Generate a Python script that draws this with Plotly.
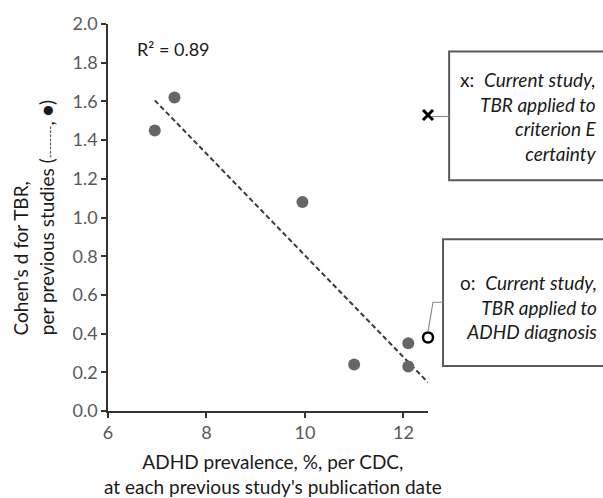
import numpy as np
import plotly.graph_objects as go

# ---- data ----
prev_prevalence = [6.95, 7.35, 9.95, 11.0, 12.1, 12.1]   # ADHD prevalence, %
prev_cohens_d = [1.45, 1.62, 1.08, 0.24, 0.35, 0.23]     # Cohen's d for TBR
current_prevalence = [12.5]
current_d_criterion_e = [1.53]
current_d_adhd_dx = [0.38]
r2_label = "R² = 0.89"
x_ticks = [6, 8, 10, 12]
y_ticks = [0.0, 0.2, 0.4, 0.6, 0.8, 1.0, 1.2, 1.4, 1.6, 1.8, 2.0]

# regression line through previous studies
slope, intercept = np.polyfit(prev_prevalence, prev_cohens_d, 1)
trend_x = np.array([min(prev_prevalence), current_prevalence[0]])
trend_y = slope * trend_x + intercept

FONT = "Lato"
fig = go.Figure()

fig.add_trace(go.Scatter(
    x=trend_x, y=trend_y, mode="lines",
    line=dict(color="#3a3a3a", width=2, dash="5px,3px"),
    hoverinfo="skip", showlegend=False))

fig.add_trace(go.Scatter(
    x=prev_prevalence, y=prev_cohens_d, mode="markers",
    marker=dict(color="#666666", size=12, line=dict(width=0)),
    showlegend=False))

fig.add_trace(go.Scatter(
    x=current_prevalence, y=current_d_criterion_e, mode="markers",
    marker=dict(symbol="x-thin", color="black", size=10,
                line=dict(color="black", width=3)),
    cliponaxis=False, showlegend=False))

fig.add_trace(go.Scatter(
    x=current_prevalence, y=current_d_adhd_dx, mode="markers",
    marker=dict(symbol="circle", color="white", size=10,
                line=dict(color="black", width=2.5)),
    cliponaxis=False, showlegend=False))

axis_common = dict(
    showline=True, linecolor="#333333", linewidth=1.5,
    ticks="outside", ticklen=5, tickcolor="#333333", tickwidth=1.5,
    showgrid=False, zeroline=False,
    tickfont=dict(family=FONT, size=18, color="#595959"),
)

fig.update_xaxes(range=[6, 12.5], tickvals=x_ticks, **axis_common)
fig.update_yaxes(range=[0, 2.0], tickvals=y_ticks, tickformat=".1f", **axis_common)

text_font = dict(family=FONT, size=19, color="#1a1a1a")

annotations = [
    dict(x=6.55, y=1.87, xref="x", yref="y", text=r2_label, showarrow=False,
         xanchor="left", yanchor="middle", font=dict(family=FONT, size=18, color="#1a1a1a")),
    dict(x=0.516, y=-0.162, xref="paper", yref="paper",
         text="ADHD prevalence, %, per CDC,<br>at each previous study's publication date",
         showarrow=False, xanchor="center", yanchor="middle", font=text_font),
    dict(x=-0.272, y=0.19, xref="paper", yref="paper", text="Cohen's d for TBR,",
         textangle=-90, showarrow=False, xanchor="center", yanchor="bottom",
         font=text_font),
    dict(x=-0.19, y=0.19, xref="paper", yref="paper",
         text="per previous studies (<span style=\"font-size:11px\">--------</span>, ●)",
         textangle=-90, showarrow=False, xanchor="center", yanchor="bottom",
         font=text_font),
    dict(x=1.534, y=0.760, xref="paper", yref="paper",
         text="x:  <i>Current study,</i><br><i>TBR applied to</i><br><i>criterion E</i><br><i>certainty</i>",
         showarrow=False, xanchor="right", yanchor="middle", align="right",
         font=text_font),
    dict(x=1.534, y=0.268, xref="paper", yref="paper",
         text="o:  <i>Current study,</i><br><i>TBR applied to</i><br><i>ADHD diagnosis</i>",
         showarrow=False, xanchor="right", yanchor="middle", align="right",
         font=text_font),
]

shapes = [
    # box for criterion E
    dict(type="rect", xref="paper", yref="paper", x0=1.066, x1=1.56, y0=0.596, y1=0.929,
         line=dict(color="#595959", width=2), fillcolor="rgba(0,0,0,0)", layer="above"),
    # box for ADHD diagnosis
    dict(type="rect", xref="paper", yref="paper", x0=1.047, x1=1.56, y0=0.116, y1=0.444,
         line=dict(color="#595959", width=2), fillcolor="rgba(0,0,0,0)", layer="above"),
    # connectors
    dict(type="line", xref="paper", yref="paper", x0=1.012, x1=1.066, y0=0.761, y1=0.761,
         line=dict(color="#8c8c8c", width=1.2)),
    dict(type="path", xref="paper", yref="paper",
         path="M 1.0 0.205 L 1.0156 0.281 L 1.047 0.281",
         line=dict(color="#8c8c8c", width=1.2)),
]

fig.update_layout(
    width=603, height=498,
    margin=dict(l=108, r=175, t=15, b=87),
    paper_bgcolor="white", plot_bgcolor="white",
    font=dict(family=FONT, size=16, color="#1a1a1a"),
    annotations=annotations, shapes=shapes, showlegend=False,
)

fig.write_html("out.html", config={"displayModeBar": False},
               post_script="document.body.style.margin='0';")
